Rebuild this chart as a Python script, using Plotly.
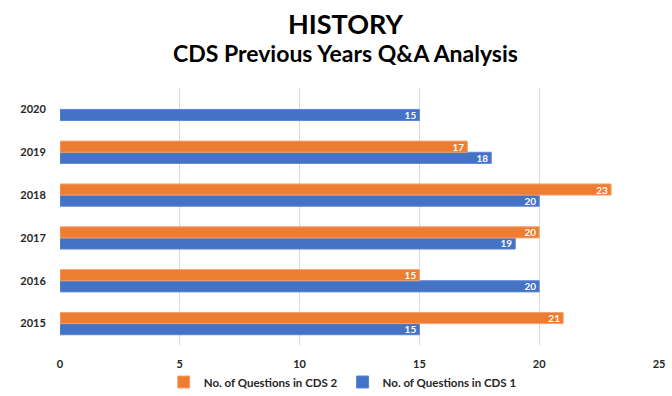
import plotly.graph_objects as go

years = ["2015", "2016", "2017", "2018", "2019", "2020"]
cds1 = [15, 20, 19, 20, 18, 15]
cds2 = [21, 15, 20, 23, 17, None]
x_ticks = [0, 5, 10, 15, 20, 25]

FONT = "Lato"
fig = go.Figure()
fig.add_trace(go.Bar(
    y=years, x=cds1, orientation="h", name="No. of Questions in CDS 1",
    marker=dict(color="#4472C4", line=dict(color="#5B86D6", width=1)),
    text=cds1, textposition="inside", insidetextanchor="end", textangle=0,
    textfont=dict(color="white", size=10, family=FONT, weight="bold"),
))
fig.add_trace(go.Bar(
    y=years, x=cds2, orientation="h", name="No. of Questions in CDS 2",
    marker=dict(color="#ED7D31", line=dict(color="#F4A271", width=1)),
    text=[("" if v is None else v) for v in cds2], textposition="inside",
    insidetextanchor="end", textangle=0,
    textfont=dict(color="white", size=10, family=FONT, weight="bold"),
))

plot_top = 88
plot_bot = 51
plot_h = 396 - plot_top - plot_bot

fig.update_layout(
    width=672, height=396,
    paper_bgcolor="white", plot_bgcolor="white",
    margin=dict(l=60, r=13, t=plot_top, b=plot_bot, autoexpand=False),
    barmode="group", bargap=0.48, bargroupgap=0,
    uniformtext=dict(minsize=10, mode="show"),
    font=dict(family=FONT, color="#262626"),
    showlegend=True,
    legend=dict(orientation="h", traceorder="reversed", xref="container", x=0.51,
                xanchor="center",
                y=1 + (plot_top - 382) / plot_h, yanchor="middle",
                font=dict(size=11.5, family=FONT, weight="bold", color="#262626"),
                itemwidth=30),
    annotations=[
        dict(text="<b>HISTORY</b>", x=345, xref="paper",
             y=1 + (plot_top - 23) / plot_h, yref="paper", yanchor="middle",
             showarrow=False, font=dict(size=27, family=FONT, color="black")),
        dict(text="<b>CDS Previous Years Q&A Analysis</b>", x=345, xref="paper",
             y=1 + (plot_top - 53) / plot_h, yref="paper", yanchor="middle",
             showarrow=False, font=dict(size=23, family=FONT, color="black")),
    ],
)
# convert title x pixel centres to paper coords
for a in fig.layout.annotations:
    a.x = (a.x - 60) / (672 - 60 - 13)

fig.update_xaxes(range=[0, 25], tickvals=x_ticks, showgrid=True, gridcolor="#D9D9D9",
                 gridwidth=1, zeroline=False, showline=False, automargin=False,
                 ticks="outside", ticklen=9, tickcolor="rgba(0,0,0,0)",
                 tickfont=dict(size=11, family=FONT, weight="bold", color="#262626"))
fig.update_yaxes(type="category", categoryorder="array", categoryarray=years,
                 showgrid=False, showline=False, automargin=False,
                 ticks="outside", ticklen=11, tickcolor="rgba(0,0,0,0)",
                 tickfont=dict(size=11, family=FONT, weight="bold", color="#262626"))

fig.write_html("out.html", config={"displayModeBar": False},
               post_script="document.body.style.margin='0';")
